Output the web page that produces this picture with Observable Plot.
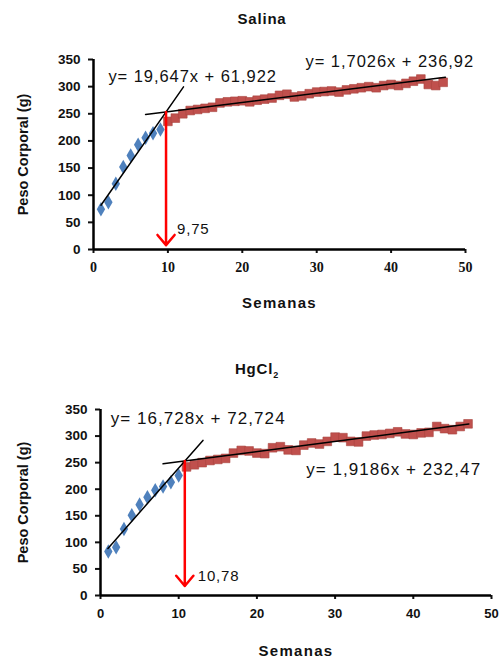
<!DOCTYPE html>
<html>
<head>
<meta charset="utf-8">
<script src="https://cdn.jsdelivr.net/npm/d3@7"></script>
<script src="https://cdn.jsdelivr.net/npm/@observablehq/plot@0.6"></script>
<style>
  body { margin: 0; background: #fff; width: 504px; height: 669px; position: relative; overflow: hidden; font-family: "Liberation Sans", Arial, sans-serif; }
  .title { position: absolute; left: 0; text-align: center; font-weight: bold; font-size: 15px; letter-spacing: 0.8px; color: #111; }
  .chart { position: absolute; left: 0; }
  .chart svg [aria-label="x-axis label"] text { letter-spacing: 1.3px; font-size: 15px; }
  .chart svg [aria-label="y-axis label"] text { font-size: 14.5px; }
  .chart svg [aria-label="y-axis tick label"] text { font-size: 13.5px; }
  #c1 svg [aria-label="x-axis tick label"] text { font-family: "Liberation Serif", serif; font-size: 14px; }
</style>
</head>
<body>
<div class="title" style="top:10px; width:524px;">Salina</div>
<div class="chart" id="c1" style="top:40px;"></div>
<div class="title" style="top:360px; width:514px;">HgCl<sub style="font-size:9px">2</sub></div>
<div class="chart" id="c2" style="top:395px;"></div>
<script>
// ---------- data ----------
const xTicks = [0, 10, 20, 30, 40, 50];
const yTicks = [0, 50, 100, 150, 200, 250, 300, 350];

// Salina
const salinaBlueWeeks = [1, 2, 3, 4, 5, 6, 7, 8, 9];
const salinaBlueValues = [74, 87, 121, 152, 173, 193, 206, 214, 221];
const salinaRedWeeks = [10, 11, 12, 13, 14, 15, 16, 17, 18, 19, 20, 21, 22, 23, 24, 25, 26, 27, 28, 29, 30, 31, 32, 33, 34, 35, 36, 37, 38, 39, 40, 41, 42, 43, 44, 45, 46, 47];
const salinaRedValues = [236, 242, 250, 256, 258, 260, 262, 270, 272, 273, 274, 272, 275, 277, 279, 284, 286, 281, 283, 287, 290, 291, 292, 290, 294, 296, 298, 300, 298, 302, 304, 302, 306, 310, 314, 304, 302, 308];
const salinaFits = [
  {slope: 19.647, intercept: 61.922, x0: 1, x1: 12.1, label: "y= 19,647x + 61,922"},
  {slope: 1.7026, intercept: 236.92, x0: 7, x1: 47.3, label: "y= 1,7026x + 236,92"}
];
const salinaBreak = 9.75;
const salinaBreakLabel = "9,75";

// HgCl2
const hgBlueWeeks = [1, 2, 3, 4, 5, 6, 7, 8, 9, 10];
const hgBlueValues = [83, 91, 125, 151, 171, 185, 198, 205, 213, 226];
const hgRedWeeks = [11, 12, 13, 14, 15, 16, 17, 18, 19, 20, 21, 22, 23, 24, 25, 26, 27, 28, 29, 30, 31, 32, 33, 34, 35, 36, 37, 38, 39, 40, 41, 42, 43, 44, 45, 46, 47];
const hgRedValues = [242, 246, 250, 254, 256, 258, 268, 273, 272, 268, 267, 278, 280, 274, 273, 283, 287, 285, 290, 298, 297, 290, 289, 300, 302, 303, 305, 308, 304, 303, 306, 307, 318, 314, 312, 318, 323];
const hgFits = [
  {slope: 16.728, intercept: 72.724, x0: 0.95, x1: 13.1, label: "y= 16,728x + 72,724"},
  {slope: 1.9186, intercept: 232.47, x0: 8, x1: 47.1, label: "y= 1,9186x + 232,47"}
];
const hgBreak = 10.78;
const hgBreakLabel = "10,78";

// ---------- helpers ----------
const zip = (xs, ys) => xs.map((x, i) => ({x, y: ys[i]}));
const fitLine = f => [f.x0, f.x1].map(x => ({x, y: f.slope * x + f.intercept, id: f.label}));

function chart({blueW, blueV, redW, redV, fits, brk, brkLabel, width, height, margins, yLabelOffset, xLabelOffset, eqPos, eqSize, eqSpacing, arrowEnd, brkLabelY, brkDx}) {
  const blue = zip(blueW, blueV);
  const red = zip(redW, redV);
  const lines = fits.flatMap(fitLine);
  const yBreak = fits[0].slope * brk + fits[0].intercept;
  const svg = Plot.plot({
    width, height,
    ...margins,
    style: {fontFamily: "'Liberation Sans', Arial, sans-serif", fontSize: "13px", fontWeight: "bold", color: "#111", background: "transparent", overflow: "visible"},
    x: {domain: [0, 50]},
    y: {domain: [0, 350]},
    marks: [
      Plot.axisX({ticks: xTicks, tickSize: 4, tickPadding: 9, tickFormat: d => String(d), label: "Semanas", labelAnchor: "center", labelOffset: xLabelOffset, labelArrow: "none", strokeWidth: 2}),
      Plot.axisY({ticks: yTicks, tickSize: 5, tickPadding: 8, tickFormat: d => String(d), label: "Peso Corporal (g)", labelAnchor: "center", labelOffset: yLabelOffset, labelArrow: "none", strokeWidth: 2}),
      Plot.dot(red, {x: "x", y: "y", symbol: "square", r: 4.9, fill: "#C0504D", stroke: "#A94440", strokeWidth: 0.6}),
      Plot.dot(blue, {x: "x", y: "y", symbol: "diamond", r: 4.4, fill: "#4F81BD"}),
      Plot.line(lines, {x: "x", y: "y", z: "id", stroke: "#000", strokeWidth: 1.5}),
      Plot.ruleY([0], {stroke: "#000", strokeWidth: 2.5}),
      Plot.ruleX([0], {stroke: "#000", strokeWidth: 2.5}),
      Plot.arrow([{x: brk, y1: yBreak, y2: arrowEnd}], {x1: "x", x2: "x", y1: "y1", y2: "y2", stroke: "#FF0000", strokeWidth: 2.5, headLength: 8, headAngle: 80}),
      Plot.text([{x: brk, y: brkLabelY, t: brkLabel}], {x: "x", y: "y", text: "t", dx: brkDx, textAnchor: "start", fontWeight: "normal", fontSize: 15, fill: "#111"}),
      Plot.text(fits.map((f, i) => ({t: f.label, x: eqPos[i][0], y: eqPos[i][1]})), {x: "x", y: "y", text: "t", textAnchor: "start", fontWeight: "normal", fontSize: eqSize, fill: "#111"})
    ]
  });
  // widen the equation and break labels a little, like the stretched original
  d3.select(svg).selectAll("text")
    .filter(function() { return this.textContent.startsWith("y="); })
    .style("letter-spacing", eqSpacing + "px").style("font-size", eqSize + "px").style("font-weight", "normal");
  d3.select(svg).selectAll("text")
    .filter(function() { return this.textContent === brkLabel; })
    .style("letter-spacing", "0.8px");
  return svg;
}

document.getElementById("c1").append(chart({
  blueW: salinaBlueWeeks, blueV: salinaBlueValues, redW: salinaRedWeeks, redV: salinaRedValues,
  fits: salinaFits, brk: salinaBreak, brkLabel: salinaBreakLabel,
  width: 504, height: 280,
  margins: {marginTop: 19, marginBottom: 71, marginLeft: 93, marginRight: 39},
  yLabelOffset: 76, xLabelOffset: 58,
  eqPos: [[2.0, 318], [28.5, 345]], eqSize: 16.5, eqSpacing: 0.95,
  arrowEnd: 8, brkLabelY: 37, brkDx: 11
}));

document.getElementById("c2").append(chart({
  blueW: hgBlueWeeks, blueV: hgBlueValues, redW: hgRedWeeks, redV: hgRedValues,
  fits: hgFits, brk: hgBreak, brkLabel: hgBreakLabel,
  width: 504, height: 274,
  margins: {marginTop: 14, marginBottom: 74, marginLeft: 100, marginRight: 13},
  yLabelOffset: 83, xLabelOffset: 60,
  eqPos: [[1.3, 333], [26.3, 237]], eqSize: 17, eqSpacing: 1.05,
  arrowEnd: 18, brkLabelY: 36, brkDx: 13
}));
</script>
</body>
</html>
